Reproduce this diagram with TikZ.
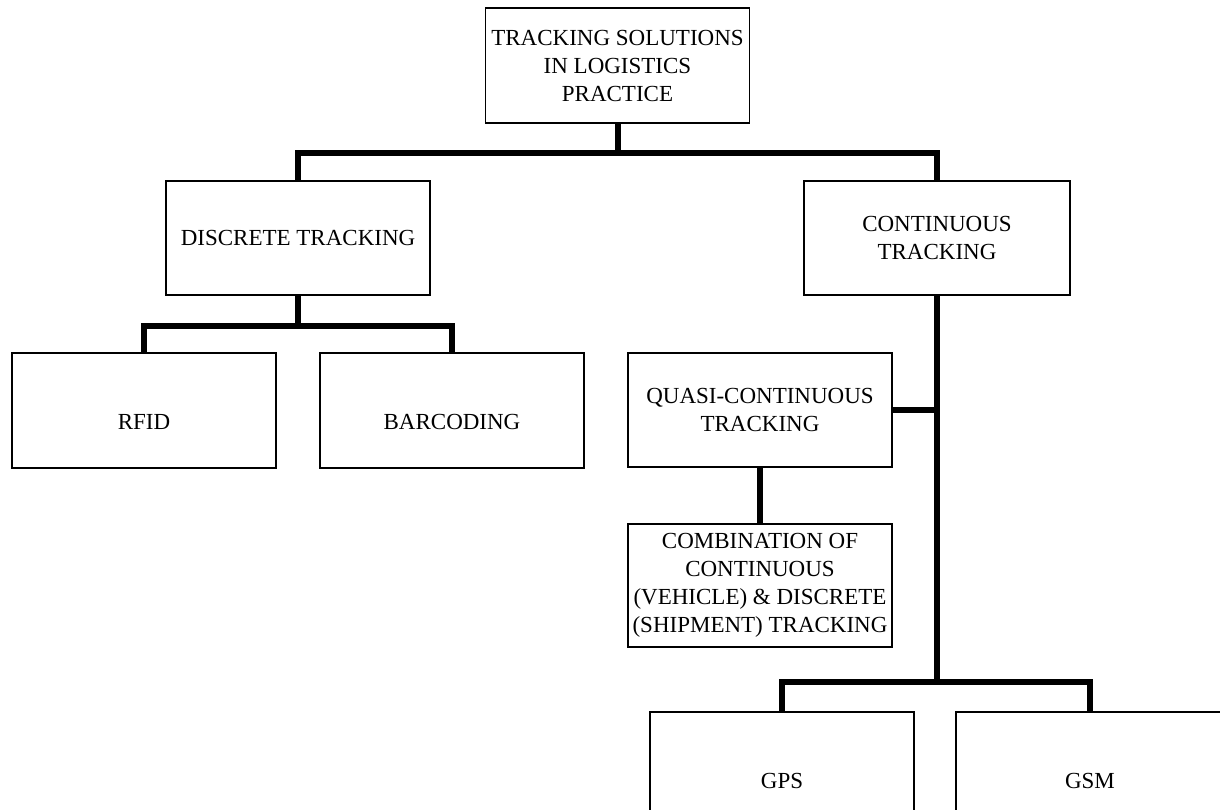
\documentclass[tikz,border=0pt]{standalone}
\usepackage{fontspec}
\setmainfont{Liberation Serif}
\begin{document}
\begin{tikzpicture}[x=1pt,y=-1pt,
  box/.style={draw,line width=1.2pt,rectangle,minimum width=264pt,minimum height=115pt,inner sep=1pt,align=center,font=\fontsize{23}{28}\selectfont},
  low/.style={text height=37pt,text depth=0pt},
  link/.style={line width=6pt,line join=miter}]
\useasboundingbox (0,0) rectangle (1220,809);
\clip (0,0) rectangle (1220,809);
\node[box] (top) at (617.5,65.5) {TRACKING SOLUTIONS\\IN LOGISTICS\\PRACTICE};
\node[box,minimum height=114pt] (disc) at (298,238) {DISCRETE TRACKING};
\node[box,minimum height=114pt,minimum width=266pt] (cont) at (937,238) {CONTINUOUS\\TRACKING};
\node[box,low] (rfid) at (144,410.5) {RFID};
\node[box,low] (bar) at (452,410.5) {BARCODING};
\node[box,minimum height=114pt] (quasi) at (760,410) {QUASI-CONTINUOUS\\TRACKING};
\node[box,minimum height=123pt] (comb) at (760,585.5) {COMBINATION OF\\CONTINUOUS\\(VEHICLE) \& DISCRETE\\(SHIPMENT) TRACKING};
\node[box,low] (gps) at (782,769.5) {GPS};
\node[box,low,minimum width=268pt] (gsm) at (1090,769.5) {GSM};
\coordinate (bus1) at (617.5,153);
\coordinate (bus2) at (298,326);
\coordinate (bus3) at (937,682);
\draw[link] (top.south) -- (bus1);
\draw[link] (disc.north) |- (bus1) -| (cont.north);
\draw[link] (disc.south) -- (bus2);
\draw[link] (rfid.north) |- (bus2) -| (bar.north);
\draw[link] (cont.south) -- (bus3);
\draw[link] (quasi.east) -- (cont.south |- quasi.east);
\draw[link] (quasi.south) -- (comb.north);
\draw[link] (gps.north) |- (bus3) -| (gsm.north);
\end{tikzpicture}
\end{document}
